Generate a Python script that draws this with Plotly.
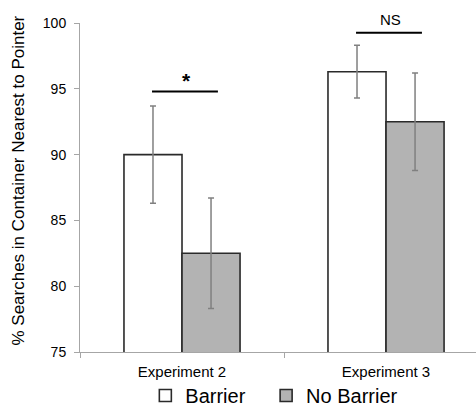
import plotly.graph_objects as go

categories = ["Experiment 2", "Experiment 3"]
barrier = [90.0, 96.3]
barrier_err = [3.7, 2.0]
no_barrier = [82.5, 92.5]
no_barrier_err = [4.2, 3.7]
sig_labels = ["*", "NS"]
sig_line_y = [94.8, 99.25]
sig_text_y = [95.6, 100.3]

FONT = "Liberation Sans, Arial, sans-serif"
AXIS_GRAY = "#a6a6a6"
ERR_GRAY = "#808080"

fig = go.Figure()
fig.add_trace(go.Bar(
    name="Barrier", x=categories, y=barrier, legend="legend",
    marker=dict(color="white", line=dict(color="#2a2a2a", width=1.6)),
    error_y=dict(type="data", array=barrier_err, color=ERR_GRAY, thickness=1.5, width=3),
))
fig.add_trace(go.Bar(
    name="No Barrier", x=categories, y=no_barrier, legend="legend2",
    marker=dict(color="#b3b3b3", line=dict(color="#2a2a2a", width=1.6)),
    error_y=dict(type="data", array=no_barrier_err, color=ERR_GRAY, thickness=1.5, width=3),
))

# significance markers (text placed in paper space so it may sit above the axis range)
offsets = (-0.147, 0.176)
for i, (lab, ly, ty) in enumerate(zip(sig_labels, sig_line_y, sig_text_y)):
    fig.add_shape(type="line", xref="x", yref="y",
                  x0=i + offsets[0], x1=i + offsets[1], y0=ly, y1=ly,
                  line=dict(color="black", width=2))
    fig.add_annotation(x=i + 0.02, y=(ty - 75) / 25, xref="x", yref="paper",
                       text=("<b>*</b>" if lab == "*" else lab), showarrow=False,
                       font=dict(family=FONT, size=21 if lab == "*" else 15, color="black"),
                       yanchor="middle")

# y axis title as annotation
fig.add_annotation(text="% Searches in Container Nearest to Pointer", textangle=-90,
                   xref="paper", yref="paper", x=-0.155, y=0.52,
                   xanchor="center", yanchor="middle", showarrow=False,
                   font=dict(family=FONT, size=17, color="black"))

legend_common = dict(orientation="h", y=-0.132, xanchor="left", yanchor="middle",
                     font=dict(family=FONT, size=20, color="black"),
                     bgcolor="rgba(0,0,0,0)")

fig.update_layout(
    width=476, height=415,
    margin=dict(l=80, r=0, t=23, b=60),
    paper_bgcolor="white", plot_bgcolor="white",
    barmode="group", bargap=0.431, bargroupgap=0,
    font=dict(family=FONT, color="black"),
    showlegend=True,
    legend=dict(x=0.165, **legend_common),
    legend2=dict(x=0.47, **legend_common),
    xaxis=dict(range=[-0.5, 1.441], showline=True, linecolor=AXIS_GRAY, linewidth=1,
               ticks="outside", tickson="boundaries", ticklen=5, tickcolor=AXIS_GRAY,
               showgrid=False, tickfont=dict(family=FONT, size=15, color="black"),
               ticklabelstandoff=6, fixedrange=True),
    yaxis=dict(range=[75, 100], dtick=5, showline=True, linecolor=AXIS_GRAY, linewidth=1,
               ticks="outside", ticklen=5, tickcolor=AXIS_GRAY, showgrid=False,
               zeroline=False, tickfont=dict(family=FONT, size=14, color="black"),
               ticklabelstandoff=5, fixedrange=True),
)

fig.write_html("out.html", config={"displayModeBar": False})
